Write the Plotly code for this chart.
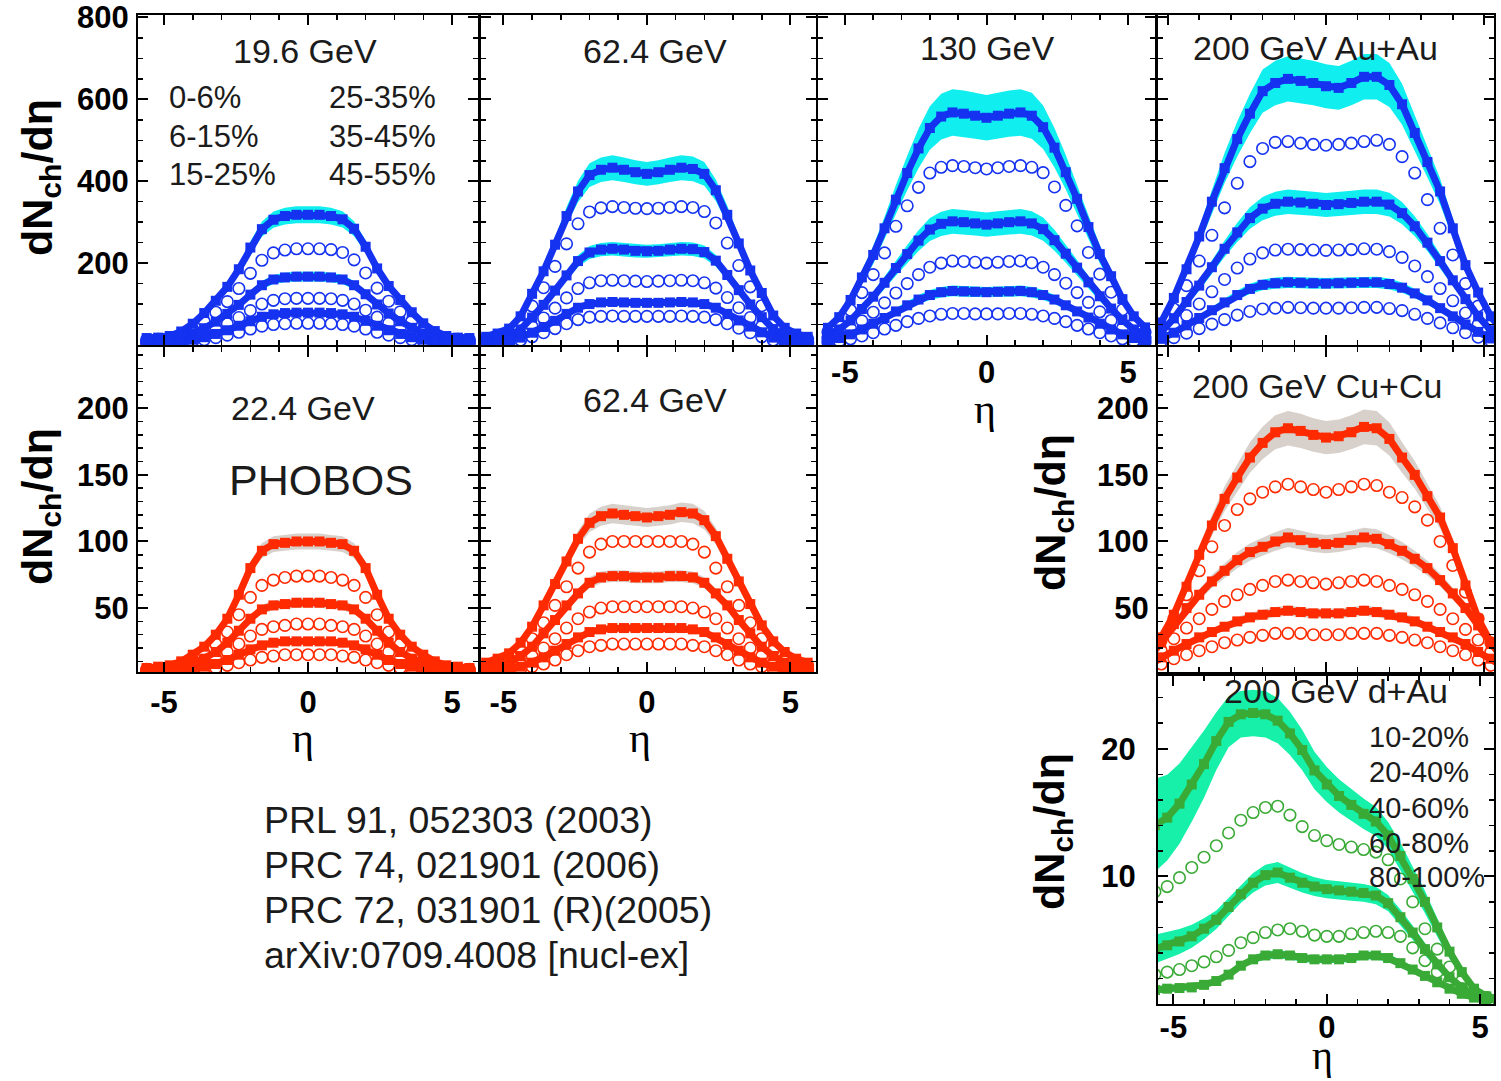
import plotly.graph_objects as go

W, H = 1501, 1081

# ---------------- data ----------------
ETA = [-5.6, -5.2, -4.8, -4.4, -4.0, -3.6, -3.2, -2.8, -2.4, -2.0, -1.6, -1.2, -0.8, -0.4, 0.0,
       0.4, 0.8, 1.2, 1.6, 2.0, 2.4, 2.8, 3.2, 3.6, 4.0, 4.4, 4.8, 5.2, 5.6]

CENT_AA = ['0-6%', '6-15%', '15-25%', '25-35%', '35-45%', '45-55%']
CENT_DAU = ['10-20%', '20-40%', '40-60%', '60-80%', '80-100%']

# Au+Au 19.6 GeV
AU196_0_6 = [17, 18, 22, 33, 52, 78, 108, 142, 185, 238, 283, 306, 315, 318, 318, 318, 315, 307, 284, 240, 187, 144, 110, 80, 53, 34, 22, 18, 17]
AU196_6_15 = [13, 14, 16, 24, 38, 57, 80, 106, 138, 175, 207, 225, 232, 235, 235, 235, 233, 226, 208, 176, 139, 107, 81, 58, 39, 25, 16, 14, 13]
AU196_15_25 = [10, 10, 12, 18, 28, 41, 57, 76, 98, 123, 146, 160, 165, 167, 167, 167, 165, 160, 146, 124, 99, 77, 58, 42, 28, 18, 12, 10, 10]
AU196_25_35 = [8, 8, 9, 12, 19, 28, 39, 52, 67, 84, 100, 109, 113, 114, 114, 114, 113, 109, 100, 85, 68, 53, 40, 28, 19, 12, 9, 8, 8]
AU196_35_45 = [6, 6, 7, 9, 13, 19, 27, 36, 47, 58, 69, 75, 78, 79, 79, 79, 78, 75, 69, 59, 47, 36, 27, 19, 13, 9, 7, 6, 6]
AU196_45_55 = [4, 4, 5, 6, 9, 13, 18, 24, 31, 39, 46, 50, 52, 53, 53, 53, 52, 50, 46, 39, 31, 24, 18, 13, 9, 6, 5, 4, 4]

# Au+Au 62.4 GeV
AU624_0_6 = [20, 28, 40, 70, 125, 180, 245, 315, 375, 415, 428, 433, 428, 422, 418, 422, 428, 433, 430, 418, 378, 318, 248, 182, 127, 72, 42, 28, 20]
AU624_6_15 = [15, 21, 31, 55, 95, 140, 192, 247, 296, 325, 335, 338, 336, 334, 333, 334, 336, 338, 336, 326, 298, 249, 194, 142, 96, 56, 32, 21, 15]
AU624_15_25 = [11, 15, 22, 38, 67, 98, 133, 170, 205, 226, 233, 235, 233, 230, 229, 230, 233, 235, 234, 227, 206, 171, 134, 99, 68, 39, 22, 15, 11]
AU624_25_35 = [8, 11, 16, 26, 45, 66, 90, 115, 138, 152, 157, 158, 157, 156, 155, 156, 157, 158, 157, 152, 139, 116, 91, 67, 46, 27, 16, 11, 8]
AU624_35_45 = [6, 8, 11, 18, 30, 44, 59, 76, 91, 100, 104, 105, 104, 103, 103, 103, 104, 105, 104, 100, 91, 76, 60, 45, 31, 18, 11, 8, 6]
AU624_45_55 = [4, 5, 7, 12, 20, 30, 40, 52, 62, 68, 70, 71, 70, 70, 70, 70, 70, 71, 70, 68, 62, 52, 41, 30, 20, 12, 7, 5, 4]

# Au+Au 130 GeV
AU130_0_6 = [42, 68, 110, 165, 220, 285, 355, 420, 480, 530, 558, 568, 565, 560, 555, 560, 565, 568, 560, 532, 482, 422, 357, 288, 222, 168, 112, 70, 43]
AU130_6_15 = [32, 52, 85, 128, 172, 225, 290, 340, 385, 420, 434, 438, 436, 433, 430, 433, 436, 438, 434, 421, 386, 341, 291, 226, 173, 129, 86, 53, 32]
AU130_15_25 = [25, 38, 60, 88, 118, 152, 188, 222, 255, 282, 296, 302, 300, 297, 294, 297, 300, 302, 297, 283, 256, 223, 189, 153, 119, 89, 61, 38, 25]
AU130_25_35 = [17, 26, 40, 59, 80, 103, 127, 150, 172, 190, 200, 205, 204, 202, 200, 202, 204, 205, 201, 190, 172, 151, 128, 104, 81, 60, 40, 26, 17]
AU130_35_45 = [11, 17, 26, 38, 52, 66, 82, 97, 111, 122, 129, 132, 131, 130, 129, 130, 131, 132, 129, 122, 111, 97, 82, 67, 52, 38, 26, 17, 11]
AU130_45_55 = [7, 10, 15, 22, 30, 39, 48, 57, 65, 71, 75, 77, 77, 76, 76, 76, 77, 77, 75, 71, 65, 57, 48, 39, 30, 22, 15, 10, 7]

# Au+Au 200 GeV
AU200_0_6 = [20, 55, 115, 185, 265, 350, 432, 503, 565, 620, 640, 650, 645, 640, 632, 628, 640, 655, 655, 635, 588, 518, 447, 375, 285, 195, 128, 70, 30]
AU200_6_15 = [18, 42, 88, 145, 205, 268, 335, 395, 448, 480, 495, 497, 493, 490, 488, 490, 493, 497, 500, 490, 460, 420, 355, 285, 220, 150, 95, 48, 20]
AU200_15_25 = [14, 32, 65, 105, 145, 190, 235, 275, 310, 333, 345, 350, 348, 345, 342, 344, 347, 350, 350, 343, 322, 290, 250, 205, 158, 112, 70, 36, 15]
AU200_25_35 = [10, 22, 45, 72, 100, 130, 160, 188, 210, 225, 232, 234, 233, 232, 231, 232, 233, 235, 234, 228, 214, 193, 167, 138, 108, 78, 50, 25, 10]
AU200_35_45 = [7, 15, 30, 48, 66, 85, 104, 122, 137, 147, 151, 153, 152, 151, 150, 151, 152, 153, 153, 149, 140, 126, 109, 90, 70, 50, 32, 16, 7]
AU200_45_55 = [4, 9, 18, 29, 40, 51, 62, 73, 82, 88, 90, 92, 91, 90, 90, 90, 91, 92, 92, 89, 84, 75, 65, 54, 42, 30, 19, 10, 4]

# Cu+Cu 22.4 GeV
CU224_0_6 = [5, 6, 7, 10, 15, 21, 30, 42, 60, 80, 93, 98, 99, 100, 100, 100, 99, 98, 93, 80, 60, 42, 30, 21, 15, 10, 7, 6, 5]
CU224_6_15 = [4, 4, 5, 7, 11, 16, 23, 32, 45, 58, 67, 71, 73, 74, 74, 74, 73, 71, 67, 58, 45, 32, 23, 16, 11, 7, 5, 4, 4]
CU224_15_25 = [4, 4, 4, 5, 8, 12, 17, 24, 33, 42, 49, 52, 53, 54, 54, 54, 53, 52, 49, 42, 33, 24, 17, 12, 8, 5, 4, 4, 4]
CU224_25_35 = [3, 3, 3, 4, 6, 9, 12, 17, 23, 29, 34, 36, 37, 38, 38, 38, 37, 36, 34, 29, 23, 17, 12, 9, 6, 4, 3, 3, 3]
CU224_35_45 = [3, 3, 3, 3, 4, 6, 8, 11, 15, 19, 22, 24, 25, 25, 25, 25, 25, 24, 22, 19, 15, 11, 8, 6, 4, 3, 3, 3, 3]
CU224_45_55 = [3, 3, 3, 3, 3, 4, 5, 7, 9, 11, 13, 14, 15, 15, 15, 15, 15, 14, 13, 11, 9, 7, 5, 4, 3, 3, 3, 3, 3]

# Cu+Cu 62.4 GeV
CU624_0_6 = [9, 12, 16, 24, 36, 52, 68, 85, 102, 114, 119, 121, 120, 119, 118, 119, 120, 122, 121, 116, 104, 87, 70, 53, 37, 25, 17, 12, 9]
CU624_6_15 = [7, 9, 12, 18, 27, 39, 52, 66, 80, 92, 98, 100, 100, 100, 100, 100, 100, 100, 98, 92, 80, 66, 52, 39, 27, 18, 12, 9, 7]
CU624_15_25 = [5, 7, 9, 14, 21, 31, 41, 52, 61, 69, 73, 74, 74, 73, 73, 73, 74, 74, 73, 69, 61, 52, 41, 31, 21, 14, 9, 7, 5]
CU624_25_35 = [4, 5, 6, 9, 14, 20, 27, 35, 42, 47, 50, 51, 51, 51, 51, 51, 51, 51, 50, 47, 42, 35, 27, 20, 14, 9, 6, 5, 4]
CU624_35_45 = [3, 3, 4, 6, 9, 13, 18, 23, 28, 32, 34, 35, 35, 35, 35, 35, 35, 35, 34, 32, 28, 23, 18, 13, 9, 6, 4, 3, 3]
CU624_45_55 = [2, 2, 3, 4, 6, 8, 11, 15, 18, 21, 22, 23, 23, 23, 23, 23, 23, 23, 22, 21, 18, 15, 11, 8, 6, 4, 3, 2, 2]

# Cu+Cu 200 GeV
CU200_0_6 = [14, 28, 45, 66, 90, 112, 132, 148, 163, 174, 182, 185, 183, 180, 178, 179, 182, 186, 185, 177, 163, 150, 134, 118, 95, 67, 42, 24, 12]
CU200_6_15 = [12, 26, 42, 60, 78, 96, 112, 124, 132, 137, 141, 143, 141, 139, 137, 139, 141, 143, 142, 137, 133, 126, 116, 100, 82, 62, 42, 24, 11]
CU200_15_25 = [12, 24, 38, 50, 60, 70, 78, 86, 92, 96, 100, 103, 101, 99, 98, 99, 101, 103, 102, 98, 93, 87, 80, 71, 61, 50, 37, 23, 11]
CU200_25_35 = [9, 18, 27, 35, 42, 49, 55, 60, 64, 67, 70, 71, 70, 69, 68, 69, 70, 71, 70, 67, 64, 60, 55, 49, 42, 34, 26, 17, 8]
CU200_35_45 = [7, 13, 18, 23, 28, 32, 36, 40, 43, 45, 47, 48, 47, 46, 46, 46, 47, 48, 47, 45, 43, 40, 36, 32, 28, 23, 17, 12, 6]
CU200_45_55 = [4, 8, 12, 15, 18, 21, 24, 26, 28, 29.5, 31, 31, 31, 30, 30, 30, 31, 31, 31, 29.5, 28, 26, 24, 21, 18, 15, 11, 7, 4]

# d+Au 200 GeV
DAU_10_20 = [14.0, 14.6, 15.7, 17.2, 18.8, 20.6, 22.1, 22.7, 22.8, 22.7, 22.2, 21.2, 19.9, 18.3, 17.2, 16.3, 15.6, 14.9, 14.3, 13.2, 11.6, 9.8, 8.0, 6.0, 4.1, 2.5, 1.2, 0.6, 0.4]
DAU_20_40 = [8.8, 9.2, 9.9, 10.7, 11.5, 12.4, 13.4, 14.4, 15.0, 15.4, 15.5, 14.8, 13.9, 13.2, 12.8, 12.5, 12.3, 12.1, 11.9, 11.3, 9.8, 8.0, 5.9, 4.3, 2.9, 1.8, 0.9, 0.5, 0.4]
DAU_40_60 = [4.3, 4.6, 4.9, 5.3, 5.9, 6.6, 7.6, 8.6, 9.5, 10.1, 10.3, 9.9, 9.5, 9.2, 9.0, 8.9, 8.8, 8.7, 8.5, 7.9, 6.8, 5.6, 4.3, 3.1, 2.1, 1.3, 0.7, 0.4, 0.3]
DAU_60_80 = [2.3, 2.5, 2.7, 3.0, 3.3, 3.7, 4.2, 4.8, 5.2, 5.6, 5.8, 5.9, 5.7, 5.4, 5.3, 5.3, 5.5, 5.6, 5.7, 5.6, 5.3, 4.4, 3.4, 2.5, 1.8, 1.2, 0.8, 0.5, 0.3]
DAU_80_100 = [1.1, 1.2, 1.25, 1.3, 1.5, 1.8, 2.3, 3.0, 3.5, 3.8, 3.9, 3.8, 3.6, 3.5, 3.5, 3.5, 3.6, 3.8, 3.8, 3.6, 3.2, 2.7, 2.2, 1.7, 1.2, 0.8, 0.5, 0.35, 0.3]

# relative systematic-band half widths (filled series)
SYS_AU196 = [0.065, 0.07, 0.08]
SYS_AU624 = [0.07, 0.07, 0.08]
SYS_AU130 = [0.10, 0.10, 0.10]
SYS_AU200 = [0.085, 0.085, 0.09]
SYS_CU224 = [0.06, 0.07, 0.08]
SYS_CU624 = [0.06, 0.06, 0.07]
SYS_CU200 = [0.07, 0.07, 0.08]
SYS_DAU = [0.26, 0.23, 0.20, 0.17, 0.14, 0.11, 0.09, 0.08, 0.08, 0.08, 0.08, 0.08, 0.08, 0.08, 0.08,
           0.08, 0.08, 0.08, 0.08, 0.08, 0.09, 0.10, 0.11, 0.12, 0.13, 0.14, 0.15, 0.15, 0.15]

for _s in [AU196_0_6, AU196_6_15, AU196_15_25, AU196_25_35, AU196_35_45, AU196_45_55,
           AU624_0_6, AU624_6_15, AU624_15_25, AU624_25_35, AU624_35_45, AU624_45_55,
           AU130_0_6, AU130_6_15, AU130_15_25, AU130_25_35, AU130_35_45, AU130_45_55,
           AU200_0_6, AU200_6_15, AU200_15_25, AU200_25_35, AU200_35_45, AU200_45_55,
           CU224_0_6, CU224_6_15, CU224_15_25, CU224_25_35, CU224_35_45, CU224_45_55,
           CU624_0_6, CU624_6_15, CU624_15_25, CU624_25_35, CU624_35_45, CU624_45_55,
           CU200_0_6, CU200_6_15, CU200_15_25, CU200_25_35, CU200_35_45, CU200_45_55,
           DAU_10_20, DAU_20_40, DAU_40_60, DAU_60_80, DAU_80_100, SYS_DAU]:
    assert len(_s) == len(ETA), len(_s)

# ---------------- styles ----------------
BLUE, CYAN = '#1432F0', '#10EEF0'
RED, GREY = '#FF2A00', '#D8D0CA'
GREEN, MINT = '#3AAA36', '#16F0A8'
TXT = '#1b1b1b'

PANELS = [
    dict(box=(138, 15, 478, 345), xr=[-5.9, 5.9], kind='au', xlab=False, ylab=True, xso=0,
         series=[AU196_0_6, AU196_6_15, AU196_15_25, AU196_25_35, AU196_35_45, AU196_45_55],
         sys=SYS_AU196, color=BLUE, band=CYAN),
    dict(box=(481, 15, 816, 345), xr=[-5.78, 5.89], kind='au', xlab=False, ylab=False, xso=0,
         series=[AU624_0_6, AU624_6_15, AU624_15_25, AU624_25_35, AU624_35_45, AU624_45_55],
         sys=SYS_AU624, color=BLUE, band=CYAN),
    dict(box=(818, 15, 1155, 345), xr=[-5.95, 5.95], kind='au', xlab=True, ylab=False, xso=-1,
         series=[AU130_0_6, AU130_6_15, AU130_15_25, AU130_25_35, AU130_35_45, AU130_45_55],
         sys=SYS_AU130, color=BLUE, band=CYAN),
    dict(box=(1158, 15, 1494, 345), xr=[-5.3, 5.3], kind='au', xlab=False, ylab=False, xso=0,
         series=[AU200_0_6, AU200_6_15, AU200_15_25, AU200_25_35, AU200_35_45, AU200_45_55],
         sys=SYS_AU200, color=BLUE, band=CYAN),
    dict(box=(138, 347, 478, 672), xr=[-5.9, 5.9], kind='cu', xlab=True, ylab=True, xso=2,
         series=[CU224_0_6, CU224_6_15, CU224_15_25, CU224_25_35, CU224_35_45, CU224_45_55],
         sys=SYS_CU224, color=RED, band=GREY),
    dict(box=(481, 347, 816, 672), xr=[-5.78, 5.89], kind='cu', xlab=True, ylab=False, xso=2,
         series=[CU624_0_6, CU624_6_15, CU624_15_25, CU624_25_35, CU624_35_45, CU624_45_55],
         sys=SYS_CU624, color=RED, band=GREY),
    dict(box=(1158, 347, 1494, 672), xr=[-5.3, 5.3], kind='cu', xlab=False, ylab=True, xso=0,
         series=[CU200_0_6, CU200_6_15, CU200_15_25, CU200_25_35, CU200_35_45, CU200_45_55],
         sys=SYS_CU200, color=RED, band=GREY),
    dict(box=(1158, 676, 1494, 1004), xr=[-5.5, 5.45], kind='dau', xlab=True, ylab=True, xso=-5,
         series=[DAU_10_20, DAU_20_40, DAU_40_60, DAU_60_80, DAU_80_100],
         sys=[SYS_DAU, SYS_DAU, SYS_DAU], color=GREEN, band=MINT),
]

YSPEC = {
    'au': dict(range=[0, 806], tickvals=[200, 400, 600, 800], minor=[v * 50 for v in range(1, 17)], standoff=1),
    'cu': dict(range=[2, 246], tickvals=[50, 100, 150, 200], minor=[v * 10 for v in range(1, 25)], standoff=1),
    'dau': dict(range=[0, 25.7], tickvals=[10, 20], minor=[v * 2 for v in range(1, 13)], standoff=14),
}

TICKFONT = dict(family='Liberation Sans', size=31, color='black', weight='bold')


def base_axis():
    return dict(showline=True, linecolor='black', linewidth=2, mirror='ticks',
                ticks='inside', ticklen=10, tickwidth=2, tickcolor='black',
                showgrid=False, zeroline=False, fixedrange=True, automargin=False,
                tickfont=TICKFONT)


fig = go.Figure()
layout = dict(width=W, height=H, margin=dict(l=0, r=0, t=0, b=0), autosize=False,
              paper_bgcolor='white', plot_bgcolor='white', showlegend=False,
              template='none')

for pi, p in enumerate(PANELS, start=1):
    xa = 'x' if pi == 1 else f'x{pi}'
    ya = 'y' if pi == 1 else f'y{pi}'
    x0, y0, x1, y1 = p['box']
    xs = base_axis()
    xs.update(domain=[x0 / W, x1 / W], range=p['xr'], anchor=ya,
              tickvals=[-5, 0, 5], ticktext=['-5', '0', '5'], showticklabels=p['xlab'],
              ticklabelstandoff=p['xso'],
              minor=dict(ticks='inside', ticklen=5, tickwidth=1.5, tickcolor='black',
                         tickvals=list(range(-5, 6)), showgrid=False))
    ys_spec = YSPEC[p['kind']]
    ys = base_axis()
    ys.update(domain=[1 - y1 / H, 1 - y0 / H], range=ys_spec['range'], anchor=xa,
              tickvals=ys_spec['tickvals'], ticktext=[str(v) for v in ys_spec['tickvals']],
              showticklabels=p['ylab'], ticklabelstandoff=ys_spec['standoff'],
              minor=dict(ticks='inside', ticklen=5, tickwidth=1.5, tickcolor='black',
                         tickvals=ys_spec['minor'], showgrid=False))
    layout['xaxis' if pi == 1 else f'xaxis{pi}'] = xs
    layout['yaxis' if pi == 1 else f'yaxis{pi}'] = ys

    # systematic bands (behind all markers)
    for si, vals in enumerate(p['series']):
        if si % 2 == 0:
            frac = p['sys'][si // 2]
            if not isinstance(frac, list):
                frac = [frac] * len(vals)
            up = [v * (1 + f) for v, f in zip(vals, frac)]
            lo = [v * (1 - f) for v, f in zip(vals, frac)]
            fig.add_trace(go.Scatter(x=ETA + ETA[::-1], y=up + lo[::-1], mode='lines',
                                     fill='toself', fillcolor=p['band'],
                                     line=dict(width=0, color=p['band']),
                                     xaxis=xa, yaxis=ya, hoverinfo='skip'))
    for si, vals in enumerate(p['series']):
        c = p['color']
        if si % 2 == 0:
            fig.add_trace(go.Scatter(x=ETA, y=vals, mode='lines+markers',
                                     line=dict(color=c, width=7),
                                     marker=dict(symbol='square', size=10, color=c),
                                     xaxis=xa, yaxis=ya))
        else:
            fig.add_trace(go.Scatter(x=ETA, y=vals, mode='markers',
                                     marker=dict(symbol='circle-open', size=11.5, color=c,
                                                 line=dict(width=1.6, color=c)),
                                     xaxis=xa, yaxis=ya))


def ann(text, px, py, size, xanchor='center', bold=False, angle=0, family='Liberation Sans', color=TXT):
    return dict(text=text, x=px / W, y=1 - py / H, xref='paper', yref='paper',
                xanchor=xanchor, yanchor='middle', showarrow=False, textangle=angle,
                font=dict(family=family, size=size, color=color, weight='bold' if bold else 'normal'))


YT = 'dN<sub>ch</sub>/dη'
anns = [
    ann('19.6 GeV', 305, 51, 34),
    ann(CENT_AA[0], 167, 97, 31, 'left'), ann(CENT_AA[1], 167, 136, 31, 'left'),
    ann(CENT_AA[2], 167, 174, 31, 'left'), ann(CENT_AA[3], 327, 97, 31, 'left'),
    ann(CENT_AA[4], 327, 136, 31, 'left'), ann(CENT_AA[5], 327, 174, 31, 'left'),
    ann('62.4 GeV', 655, 51, 34),
    ann('130 GeV', 987, 48, 34),
    ann('200 GeV Au+Au', 1315, 48, 34),
    ann('22.4 GeV', 303, 408, 34),
    ann('PHOBOS', 321, 480, 43),
    ann('62.4 GeV', 655, 400, 34),
    ann('200 GeV Cu+Cu', 1317, 386, 34),
    ann('200 GeV d+Au', 1336, 691, 34),
    ann('PRL 91, 052303 (2003)', 262, 820, 37.5, 'left'),
    ann('PRC 74, 021901 (2006)', 262, 865, 37.5, 'left'),
    ann('PRC 72, 031901 (R)(2005)', 262, 910, 37.5, 'left'),
    ann('arXiv:0709.4008 [nucl-ex]', 262, 955, 37.5, 'left'),
    # axis titles
    ann(YT, 40, 178, 43, bold=True, angle=-90, color='black'),
    ann(YT, 40, 507, 43, bold=True, angle=-90, color='black'),
    ann(YT, 1053, 513, 43, bold=True, angle=-90, color='black'),
    ann(YT, 1052, 832, 43, bold=True, angle=-90, color='black'),
    ann('η', 303, 738, 42, family='Liberation Serif', color='black'),
    ann('η', 640, 738, 42, family='Liberation Serif', color='black'),
    ann('η', 985, 409, 42, family='Liberation Serif', color='black'),
    ann('η', 1322, 1055, 40, family='Liberation Serif', color='black'),
]
for i, lab in enumerate(CENT_DAU):
    anns.append(ann(lab, 1367, [737, 772, 808, 843, 877][i], 29, 'left'))
layout['annotations'] = anns

fig.update_layout(**layout)
fig.write_html('out.html', config={'displayModeBar': False, 'staticPlot': True},
               post_script="document.body.style.margin='0px';document.body.style.padding='0px';"
                           "document.body.style.overflow='hidden';")
